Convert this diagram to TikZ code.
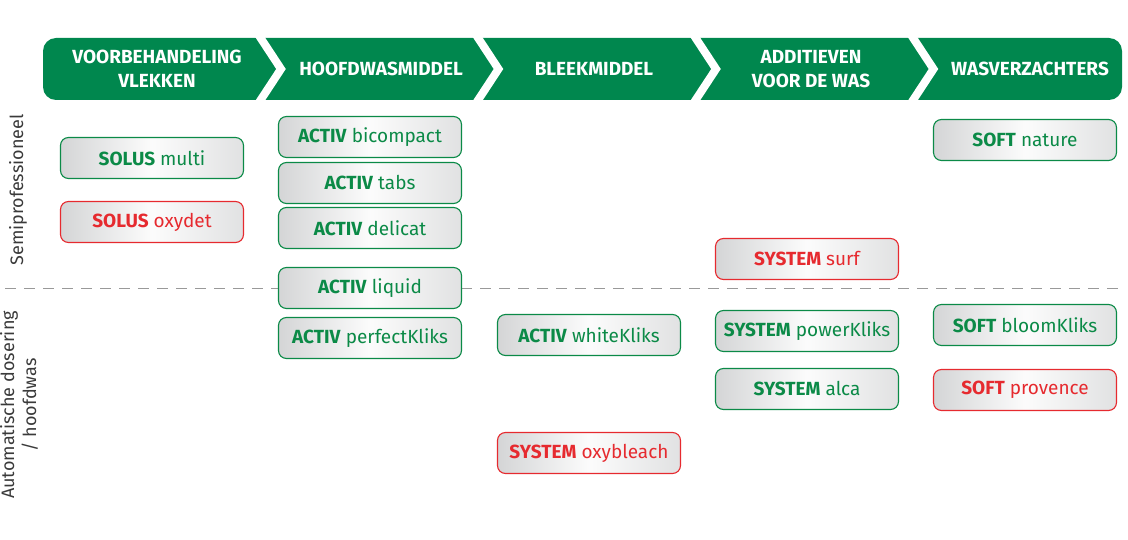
\documentclass[tikz,border=0pt]{standalone}
\usepackage{fontspec}
\setmainfont{Fira Sans}
\definecolor{hdrgreen}{HTML}{00874E}
\definecolor{txtgreen}{HTML}{0B8A47}
\definecolor{txtred}{HTML}{E62A2F}
\definecolor{boxgray}{HTML}{D4D5D6}
\definecolor{sidegray}{HTML}{3A3A3A}

\begin{document}
\begin{tikzpicture}[x=1pt,y=-1pt,
  prod/.style={rounded corners=8pt,minimum width=183pt,minimum height=41pt,line width=1.1pt,
    left color=boxgray,right color=boxgray!70,middle color=white!92!boxgray,
    font=\fontsize{19}{21}\selectfont,inner sep=0pt},
  gbox/.style={prod,draw=txtgreen,text=txtgreen},
  rbox/.style={prod,draw=txtred,text=txtred},
  hdr/.style={text=white,font=\bfseries\fontsize{19}{24}\selectfont,align=center},
  side/.style={rotate=90,text=sidegray,font=\fontsize{18}{22}\selectfont,align=center}]

\useasboundingbox (0,0) rectangle (1128,540);

% header
\fill[hdrgreen,rounded corners=13pt] (43,38) rectangle (1122,100);
\foreach \k in {0,...,3}
  \draw[white,line width=8pt,line join=miter] ({258+217.5*\k},34) -- ({281+217.5*\k},69) -- ({258+217.5*\k},104);

\node[hdr] (pre) at (157,69) {VOORBEHANDELING\\VLEKKEN};
\node[hdr] (main) at (381,69) {HOOFDWASMIDDEL};
\node[hdr] (bleach) at (594,69) {BLEEKMIDDEL};
\node[hdr] (add) at (811,69) {ADDITIEVEN\\VOOR DE WAS};
\node[hdr] (soft) at (1030,69) {WASVERZACHTERS};

% divider
\draw[gray!80,line width=0.9pt,dash pattern=on 11pt off 8pt] (5,288) -- (1122,288);

\node[side] (semi) at (18,190) {Semiprofessioneel};
\node[side] (auto) at (19,405) {Automatische dosering\\/ hoofdwas};

% products
\node[gbox] (multi) at (152,158) {\textbf{SOLUS} multi};
\node[rbox] (oxydet) at (152,222) {\textbf{SOLUS} oxydet};

\node[gbox] (bicompact) at (370,137) {\textbf{ACTIV} bicompact};
\node[gbox] (tabs) at (370,183) {\textbf{ACTIV} tabs};
\node[gbox] (delicat) at (370,228) {\textbf{ACTIV} delicat};
\node[gbox] (liquid) at (370,288) {\textbf{ACTIV} liquid};
\node[gbox] (perfect) at (370,338) {\textbf{ACTIV} perfectKliks};

\node[gbox] (white) at (589,335) {\textbf{ACTIV} whiteKliks};
\node[rbox] (oxybleach) at (589,453) {\textbf{SYSTEM} oxybleach};

\node[rbox] (surf) at (807,259) {\textbf{SYSTEM} surf};
\node[gbox] (power) at (807,331) {\textbf{SYSTEM} powerKliks};
\node[gbox] (alca) at (807,389) {\textbf{SYSTEM} alca};

\node[gbox] (nature) at (1025,140) {\textbf{SOFT} nature};
\node[gbox] (bloom) at (1025,325) {\textbf{SOFT} bloomKliks};
\node[rbox] (provence) at (1025,390) {\textbf{SOFT} provence};

\end{tikzpicture}
\end{document}
